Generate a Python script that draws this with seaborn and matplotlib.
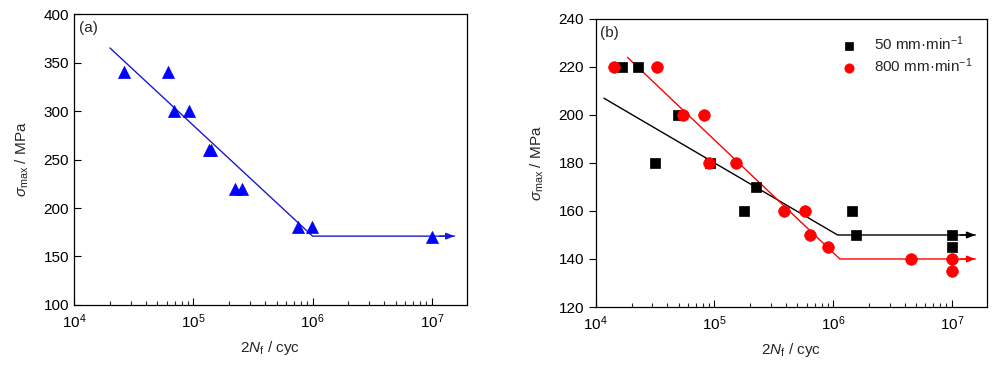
import numpy as np
import pandas as pd
import matplotlib
matplotlib.use("Agg")
import matplotlib.pyplot as plt
import seaborn as sns

# ---- data: panel (a) ----
a_cycles = [2.6e4, 6.1e4, 6.9e4, 9.2e4, 1.35e5, 1.40e5, 2.25e5, 2.58e5, 7.6e5, 9.8e5, 1.0e7]
a_stress = [340, 340, 300, 300, 260, 260, 220, 220, 180, 180, 170]
a_fit_x = [2.0e4, 1.0e6, 1.55e7]
a_fit_y = [365, 171, 171]

# ---- data: panel (b) ----
b50_cycles = [1.66e4, 2.27e4, 3.15e4, 4.94e4, 9.25e4, 1.77e5, 2.22e5, 1.44e6, 1.56e6, 1.0e7, 1.0e7]
b50_stress = [220, 220, 180, 200, 180, 160, 170, 160, 150, 150, 145]
b800_cycles = [1.41e4, 3.25e4, 5.38e4, 8.1e4, 9.0e4, 1.52e5, 3.82e5, 5.8e5, 6.39e5, 8.98e5, 4.57e6, 1.0e7, 1.0e7]
b800_stress = [220, 220, 200, 200, 180, 180, 160, 160, 150, 145, 140, 140, 135]
b50_fit_x = [1.17e4, 1.09e6, 1.58e7]
b50_fit_y = [207, 150, 150]
b800_fit_x = [1.85e4, 1.14e6, 1.58e7]
b800_fit_y = [224, 140, 140]

series_labels = ["50 mm\u00b7min$^{-1}$", "800 mm\u00b7min$^{-1}$"]
xticks = [1e4, 1e5, 1e6, 1e7]
a_yticks = [100, 150, 200, 250, 300, 350, 400]
b_yticks = [120, 140, 160, 180, 200, 220, 240]

sns.set_style("ticks")
plt.rcParams["font.family"] = ["Liberation Sans", "DejaVu Sans"]
plt.rcParams["mathtext.fontset"] = "custom"
plt.rcParams["mathtext.rm"] = "Liberation Sans"
plt.rcParams["mathtext.it"] = "Liberation Sans:italic"
plt.rcParams["mathtext.default"] = "regular"

fig = plt.figure(figsize=(9.95, 3.65), dpi=100)
ax1 = fig.add_axes([0.0744, 0.1644, 0.3949, 0.7972])
ax2 = fig.add_axes([0.5988, 0.1589, 0.3929, 0.7891])

# panel (a)
dfa = pd.DataFrame({"N": a_cycles, "S": a_stress})
sns.scatterplot(data=dfa, x="N", y="S", ax=ax1, marker="^", s=75, color="#0000FF",
                edgecolor="#0000FF", linewidth=0.5, zorder=3)
dfa_fit = pd.DataFrame({"N": a_fit_x, "S": a_fit_y})
sns.lineplot(data=dfa_fit, x="N", y="S", ax=ax1, color="#1a1ad0", linewidth=1.0,
             sort=False, estimator=None, zorder=2)
ax1.annotate("", xy=(a_fit_x[-1], a_fit_y[-1]), xytext=(a_fit_x[-1] * 0.75, a_fit_y[-1]),
             arrowprops=dict(arrowstyle="-|>,head_length=0.5,head_width=0.2", color="#1a1ad0",
                             lw=1.0, mutation_scale=10, shrinkA=0, shrinkB=0))

# panel (b)
df50 = pd.DataFrame({"N": b50_cycles, "S": b50_stress})
df800 = pd.DataFrame({"N": b800_cycles, "S": b800_stress})
sns.scatterplot(data=df50, x="N", y="S", ax=ax2, marker="s", s=45, color="black",
                edgecolor="black", linewidth=0.5, zorder=3, label=series_labels[0])
sns.scatterplot(data=df800, x="N", y="S", ax=ax2, marker="o", s=70, color="#FF0000",
                edgecolor="#FF0000", linewidth=0.5, zorder=4, label=series_labels[1])
for fx, fy, col in [(b50_fit_x, b50_fit_y, "black"), (b800_fit_x, b800_fit_y, "#FF0000")]:
    dff = pd.DataFrame({"N": fx, "S": fy})
    sns.lineplot(data=dff, x="N", y="S", ax=ax2, color=col, linewidth=1.0,
                 sort=False, estimator=None, zorder=2, legend=False)
    ax2.annotate("", xy=(fx[-1], fy[-1]), xytext=(fx[-1] * 0.75, fy[-1]),
                 arrowprops=dict(arrowstyle="-|>,head_length=0.5,head_width=0.2", color=col,
                                 lw=1.0, mutation_scale=10, shrinkA=0, shrinkB=0))

leg = ax2.legend(loc="upper right", frameon=False, fontsize=11, handletextpad=0.6,
                 borderaxespad=0.3, labelspacing=0.25, markerscale=0.8,
                 bbox_to_anchor=(0.99, 0.985))

for ax, yt, ylim, tag, ydir in [(ax1, a_yticks, (100, 400), "(a)", "in"),
                                 (ax2, b_yticks, (120, 240), "(b)", "out")]:
    ax.set_xscale("log")
    ax.set_xlim(1e4, 1.97e7)
    ax.set_ylim(*ylim)
    ax.set_xticks(xticks)
    ax.set_yticks(yt)
    ax.tick_params(axis="x", which="major", direction="in", length=5, width=0.8,
                   labelsize=11, pad=5, colors="black")
    ax.tick_params(axis="x", which="minor", direction="in", length=3, width=0.8)
    ax.tick_params(axis="y", which="major", direction=ydir, length=5, width=0.8,
                   labelsize=11, colors="black")
    ax.tick_params(axis="y", which="minor", left=False)
    for sp in ax.spines.values():
        sp.set_visible(True)
        sp.set_linewidth(0.9)
        sp.set_color("black")
    ax.set_xlabel("2$\\mathit{N}_{\\mathrm{f}}$ / cyc", fontsize=11, labelpad=6)
    ax.set_ylabel("$\\mathit{\\sigma}_{\\mathrm{max}}$ / MPa", fontsize=11, labelpad=9)
    ax.text(0.012, 0.975, tag, transform=ax.transAxes, fontsize=11, va="top", ha="left")
    ax.grid(False)

fig.savefig("out.png", dpi=100)
